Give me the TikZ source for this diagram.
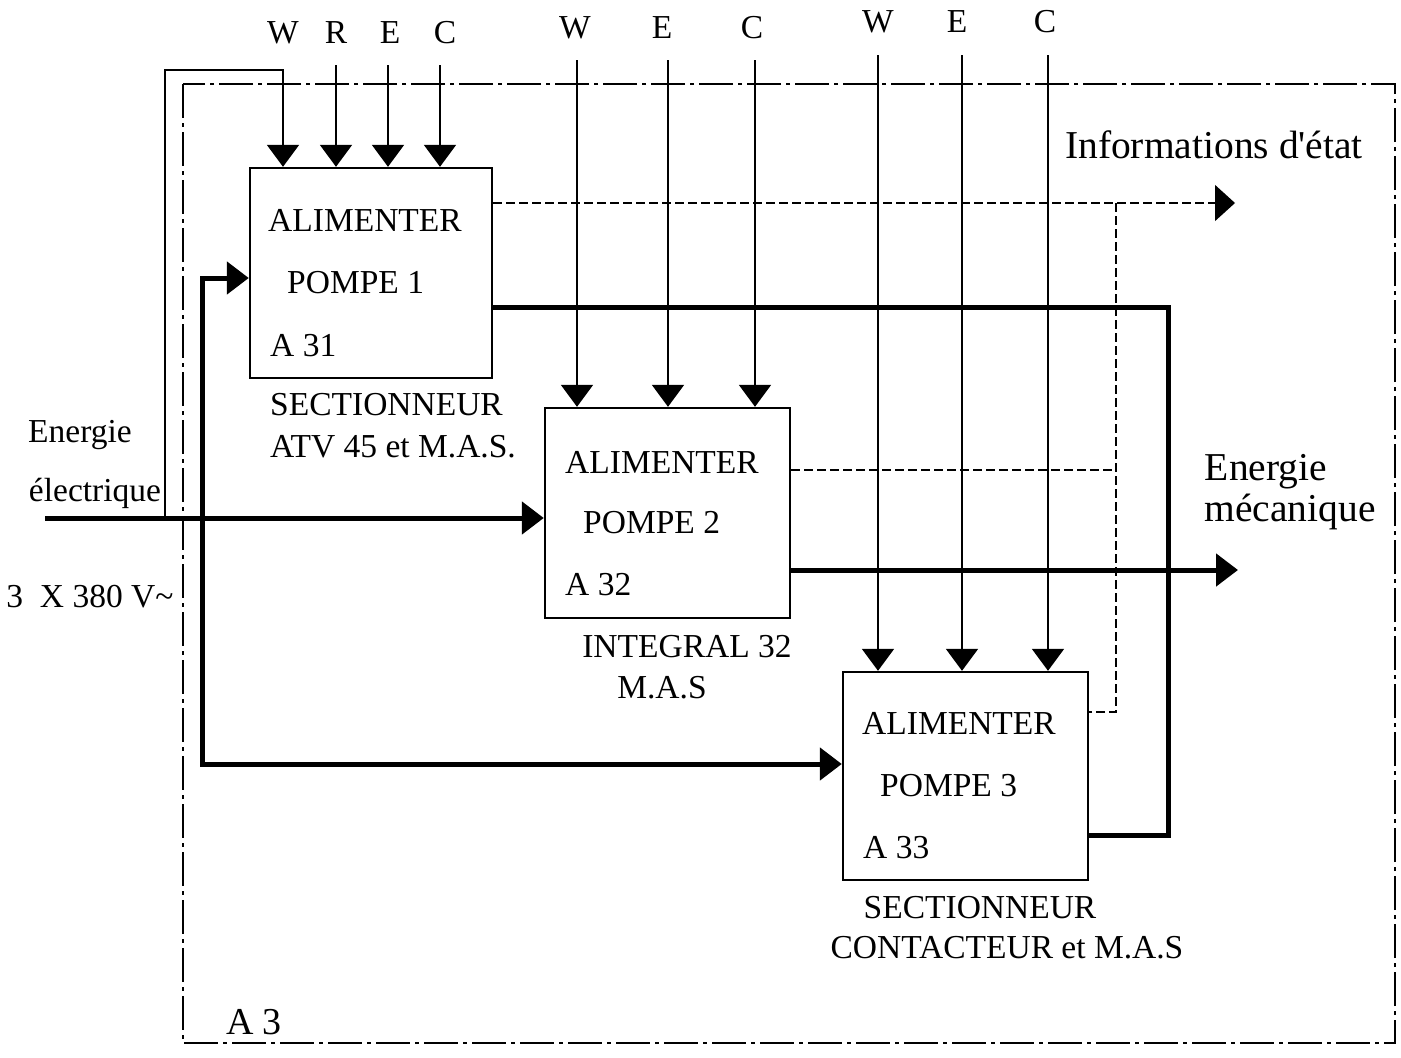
\documentclass[tikz,border=0pt]{standalone}
\usepackage{fontspec}
\setmainfont{Liberation Serif}
\newfontfamily\plainrm{Liberation Serif}[Ligatures=TeXOff]
\usetikzlibrary{arrows.meta}
\begin{document}
\begin{tikzpicture}[x=1pt,y=-1pt,
  lbl/.style={font=\fontsize{33.5}{38}\selectfont, inner sep=0pt},
  big/.style={font=\fontsize{39.5}{44}\selectfont, inner sep=0pt},
  blk/.style={draw, line width=2.4pt, inner sep=0pt},
  thinln/.style={line width=2pt},
  thickln/.style={line width=5pt},
  tip/.style={-{Triangle[length=22pt,width=32pt]}},
  tipr/.style={-{Triangle[length=20pt,width=36pt]}},
  info/.style={line width=1.3pt, dash pattern=on 9pt off 4pt},
  framest/.style={line width=1.5pt, dash pattern=on 34pt off 5pt on 4pt off 5pt}
]
\useasboundingbox (0,0) rectangle (1401,1058);

% frame
\draw[framest] (183,84) rectangle (1395,1043);

% boxes
\node[blk, minimum width=242pt, minimum height=210pt] (b1) at (371,273) {};
\node[blk, minimum width=245pt, minimum height=210pt] (b2) at (667.5,513) {};
\node[blk, minimum width=245pt, minimum height=208pt] (b3) at (965.5,776) {};

% box texts
\node[lbl, anchor=west] (b1t1) at (268,220) {ALIMENTER};
\node[lbl, anchor=west] (b1t2) at (287,283) {POMPE 1};
\node[lbl, anchor=west] (b1t3) at (270,346) {A 31};
\node[lbl, anchor=west] (b2t1) at (565,462) {ALIMENTER};
\node[lbl, anchor=west] (b2t2) at (583,523) {POMPE 2};
\node[lbl, anchor=west] (b2t3) at (565,585) {A 32};
\node[lbl, anchor=west] (b3t1) at (862,723) {ALIMENTER};
\node[lbl, anchor=west] (b3t2) at (880,786) {POMPE 3};
\node[lbl, anchor=west] (b3t3) at (863,848) {A 33};

% captions
\node[lbl, anchor=west] (c11) at (270,405) {SECTIONNEUR};
\node[lbl, anchor=west] (c12) at (270,447) {ATV 45 et M.A.S.};
\node[lbl] (c21) at (687,647) {INTEGRAL 32};
\node[lbl] (c22) at (662,688) {M.A.S};
\node[lbl] (c31) at (980,908) {SECTIONNEUR};
\node[lbl] (c32) at (1007,948) {CONTACTEUR et M.A.S};
\node[font=\fontsize{38}{40}\selectfont, inner sep=0pt] (a3) at (254,1022) {A 3};

\node[lbl] (ee1) at (80,435) {Energie};
\node[lbl] (ee2) at (95,493) {électrique};
\node[lbl] (ee3) at (90,597) {3\enspace X 380 V\textasciitilde};
\node[big] (inf) at (1214,145) {\plainrm Informations d'état};
\node[big] (em1) at (1266,472) {Energie};
\node[big] (em2) at (1290,512) {mécanique};

% input labels
\node[lbl] (lw1) at (283,33) {W};
\node[lbl] (lr1) at (336,33) {R};
\node[lbl] (le1) at (390,33) {E};
\node[lbl] (lc1) at (445,33) {C};
\node[lbl] (lw2) at (575,28) {W};
\node[lbl] (le2) at (662,28) {E};
\node[lbl] (lc2) at (752,28) {C};
\node[lbl] (lw3) at (878,22) {W};
\node[lbl] (le3) at (957,22) {E};
\node[lbl] (lc3) at (1045,22) {C};

% coordinates
\coordinate (t11) at (283,70);
\coordinate (t12) at (336,65);
\coordinate (t13) at (388,65);
\coordinate (t14) at (440,65);
\coordinate (t21) at (577,60);
\coordinate (t22) at (668,60);
\coordinate (t23) at (755,60);
\coordinate (t31) at (878,55);
\coordinate (t32) at (962,55);
\coordinate (t33) at (1048,55);
\coordinate (ein) at (45,518);
\coordinate (lp) at (165,518);
\coordinate (lpc) at (165,70);
\coordinate (jl) at (202,278);
\coordinate (jb) at (202,764);
\coordinate (o1) at (1168,307);
\coordinate (o3) at (1168,835);
\coordinate (mo) at (1238,570);
\coordinate (io) at (1235,203);
\coordinate (iv1) at (1116,203);
\coordinate (iv2) at (1116,470);
\coordinate (iv3) at (1116,712);

% energy input
\draw[thickln, tip] (ein) -- (b2.west |- ein);
\draw[thickln, tip] (jb) -- (jl) -- (b1.west |- jl);
\draw[thickln, tip] (jl) -- (jb) -- (b3.west |- jb);

% loop W of box 1
\draw[thinln, tip] (lp) -- (lpc) -- (t11) -- (b1.north -| t11);

% controls
\foreach \t/\b in {t12/b1,t13/b1,t14/b1,t21/b2,t22/b2,t23/b2,t31/b3,t32/b3,t33/b3}
  \draw[thinln, tip] (\t) -- (\b.north -| \t);

% mechanical outputs
\draw[thickln] (b1.east |- o1) -- (o1) -- (o3) -- (b3.east |- o3);
\draw[thickln, tip] (b2.east |- mo) -- (mo);

% information outputs
\draw[info, tipr] (b1.east |- io) -- (io);
\draw[info] (b2.east |- iv2) -- (iv2);
\draw[info] (iv1) -- (iv3) -- (b3.east |- iv3);
\end{tikzpicture}
\end{document}
